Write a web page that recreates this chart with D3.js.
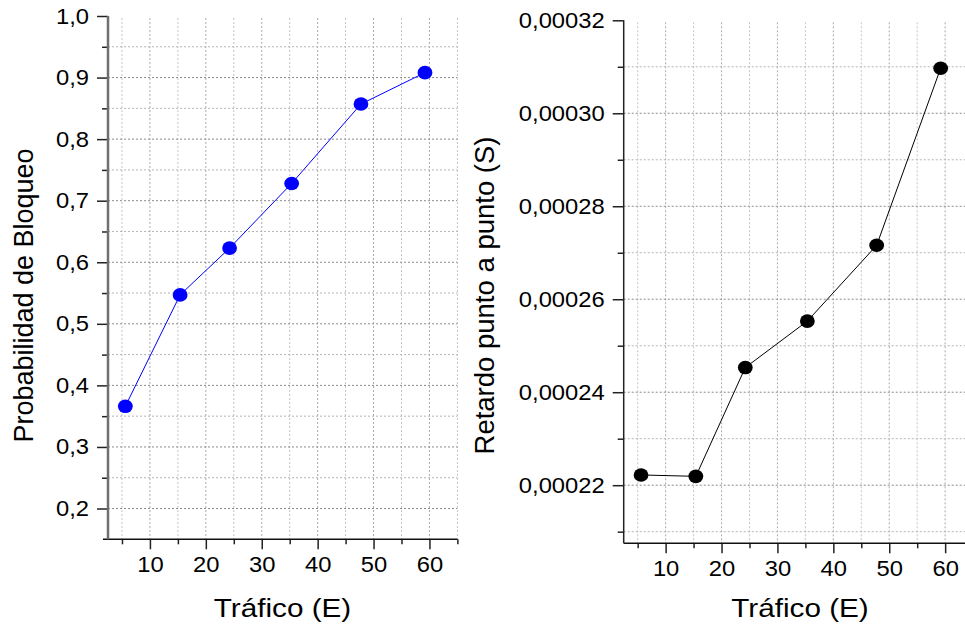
<!DOCTYPE html>
<html>
<head>
<meta charset="utf-8">
<script src="https://cdn.jsdelivr.net/npm/d3@7"></script>
<style>
  body { margin: 0; background: #fff; }
  svg { display: block; font-family: "Liberation Sans", Arial, sans-serif; }
</style>
</head>
<body>
<div id="chart"></div>
<script>
// Tráfico vs bloqueo / retardo //////////////////////////////////////////////

var traffic = [5.6, 15.4, 24.25, 35.35, 47.75, 59.2];
var blocking = [0.366, 0.547, 0.623, 0.728, 0.857, 0.908];
var delay = [0.0002222, 0.0002219, 0.0002453, 0.0002553, 0.0002716, 0.0003097];

var xMajor = [10, 20, 30, 40, 50, 60];
var xMinor = [5, 15, 25, 35, 45, 55, 65];
var blockMajor = [0.2, 0.3, 0.4, 0.5, 0.6, 0.7, 0.8, 0.9, 1.0];
var blockMinor = [0.25, 0.35, 0.45, 0.55, 0.65, 0.75, 0.85, 0.95];
var delayMajor = [0.00022, 0.00024, 0.00026, 0.00028, 0.00030, 0.00032];
var delayMinor = [0.00021, 0.00023, 0.00025, 0.00027, 0.00029, 0.00031];

var xTitle = 'Tráfico (E)';

///////////////////////////////////////////////////////////////////////////////

var W = 965, H = 628;
var tickFont = 22;
var stretch = 1.08;

var es = d3.formatLocale({decimal: ',', thousands: '.', grouping: [3], currency: ['', '']});

var svg = d3.select('#chart').append('svg')
  .attr('width', W)
  .attr('height', H);

drawPanel({
  xRange: [108, 457.4], yDomain: [0.15, 1.0], yRange: [539.3, 16],
  values: blocking, color: '#0000ff',
  yMajor: blockMajor, yMinor: blockMinor, fmt: es.format('.1f'),
  yAxisColor: '#707070', yAxisWidth: 2.5, xAxisStart: 103,
  yTitle: 'Probabilidad de Bloqueo', yTitleX: 33, yTitleSize: 27, xTitleX: 282.5
});

drawPanel({
  xRange: [623.7, 973.1], yDomain: [0.0002075, 0.00032], yRange: [543.3, 20.3],
  values: delay, color: '#000',
  yMajor: delayMajor, yMinor: delayMinor, fmt: es.format('.5f'),
  yAxisColor: '#222', yAxisWidth: 1.5, xAxisStart: 623.7,
  yTitle: 'Retardo punto a punto (S)', yTitleX: 494, yTitleSize: 27.5, xTitleX: 800
});

///////////////////////////////////////////////////////////////////////////////

function widen(sel, f) {
  sel.each(function(){
    var len = this.getComputedTextLength();
    this.setAttribute('textLength', len * f);
    this.setAttribute('lengthAdjust', 'spacingAndGlyphs');
  });
}

function drawPanel(o) {
  var x = d3.scaleLinear().domain([2.5, 65]).range(o.xRange);
  var y = d3.scaleLinear().domain(o.yDomain).range(o.yRange);
  var x0 = o.xRange[0], x1 = Math.min(o.xRange[1], W);
  var yb = o.yRange[0], yt = o.yRange[1];

  var g = svg.append('g');

  // grid
  var grid = g.append('g');
  grid.selectAll('.vg')
    .data(xMajor.concat(xMinor).filter(function(d){ return x(d) < W; }))
    .enter().append('line')
    .attr('x1', function(d){ return x(d); })
    .attr('x2', function(d){ return x(d); })
    .attr('y1', yt + 2)
    .attr('y2', yb)
    .style('stroke', function(d){ return xMajor.indexOf(d) >= 0 ? '#aaa' : '#c4c4c4'; })
    .style('stroke-width', 1)
    .style('stroke-dasharray', '2,2');

  grid.selectAll('.hg')
    .data(o.yMajor.concat(o.yMinor).filter(function(d){ return y(d) > yt + 2 && y(d) < yb - 2; }))
    .enter().append('line')
    .attr('x1', x0)
    .attr('x2', x1)
    .attr('y1', function(d){ return y(d); })
    .attr('y2', function(d){ return y(d); })
    .style('stroke', function(d){ return o.yMajor.indexOf(d) >= 0 ? '#8a8a8a' : '#b4b4b4'; })
    .style('stroke-width', 1)
    .style('stroke-dasharray', '2,2');

  // y axis
  var yAx = g.append('g').attr('transform', 'translate(' + x0 + ',0)');
  yAx.call(d3.axisLeft(y).tickValues(o.yMinor).tickSize(6).tickFormat(''));
  yAx.append('g').call(d3.axisLeft(y).tickValues(o.yMajor).tickSize(11).tickPadding(8).tickFormat(o.fmt));
  yAx.selectAll('.domain').remove();
  yAx.selectAll('.tick line').style('stroke', '#222').style('stroke-width', 1.5);
  yAx.selectAll('.tick text')
    .attr('fill', '#000')
    .style('font-size', tickFont + 'px')
    .style('font-family', '"Liberation Sans", Arial, sans-serif')
    .call(widen, stretch);

  // x axis
  var xAx = g.append('g').attr('transform', 'translate(0,' + yb + ')');
  xAx.call(d3.axisBottom(x).tickValues(xMinor).tickSize(5).tickFormat(''));
  xAx.append('g').call(d3.axisBottom(x).tickValues(xMajor).tickSize(10).tickPadding(7).tickFormat(d3.format('d')));
  xAx.selectAll('.domain').remove();
  xAx.selectAll('.tick line').style('stroke', '#222').style('stroke-width', 1.5);
  xAx.selectAll('.tick text')
    .attr('fill', '#000')
    .style('font-size', tickFont + 'px')
    .style('font-family', '"Liberation Sans", Arial, sans-serif')
    .call(widen, stretch);

  g.append('line')
    .attr('x1', o.xAxisStart).attr('x2', x1)
    .attr('y1', yb).attr('y2', yb)
    .style('stroke', '#111').style('stroke-width', 1.5);

  g.append('line')
    .attr('x1', x0).attr('x2', x0)
    .attr('y1', yt).attr('y2', yb)
    .style('stroke', o.yAxisColor).style('stroke-width', o.yAxisWidth);

  // series
  var line = d3.line()
    .x(function(d, i){ return x(traffic[i]); })
    .y(function(d){ return y(d); });

  g.append('path')
    .datum(o.values)
    .attr('d', line)
    .style('fill', 'none')
    .style('stroke', o.color)
    .style('stroke-width', 1);

  g.selectAll('.pt')
    .data(o.values)
    .enter().append('ellipse')
    .attr('cx', function(d, i){ return x(traffic[i]); })
    .attr('cy', function(d){ return y(d); })
    .attr('rx', 7.4)
    .attr('ry', 6.8)
    .style('fill', o.color)
    .style('stroke', 'none');

  // titles
  g.append('text')
    .attr('x', o.xTitleX)
    .attr('y', 617)
    .attr('text-anchor', 'middle')
    .style('font-size', '26.5px')
    .text(xTitle)
    .call(widen, 1.12);

  g.append('text')
    .attr('transform', 'translate(' + o.yTitleX + ',' + 295.5 + ') rotate(-90)')
    .attr('text-anchor', 'middle')
    .style('font-size', o.yTitleSize + 'px')
    .text(o.yTitle);
}
</script>
</body>
</html>
